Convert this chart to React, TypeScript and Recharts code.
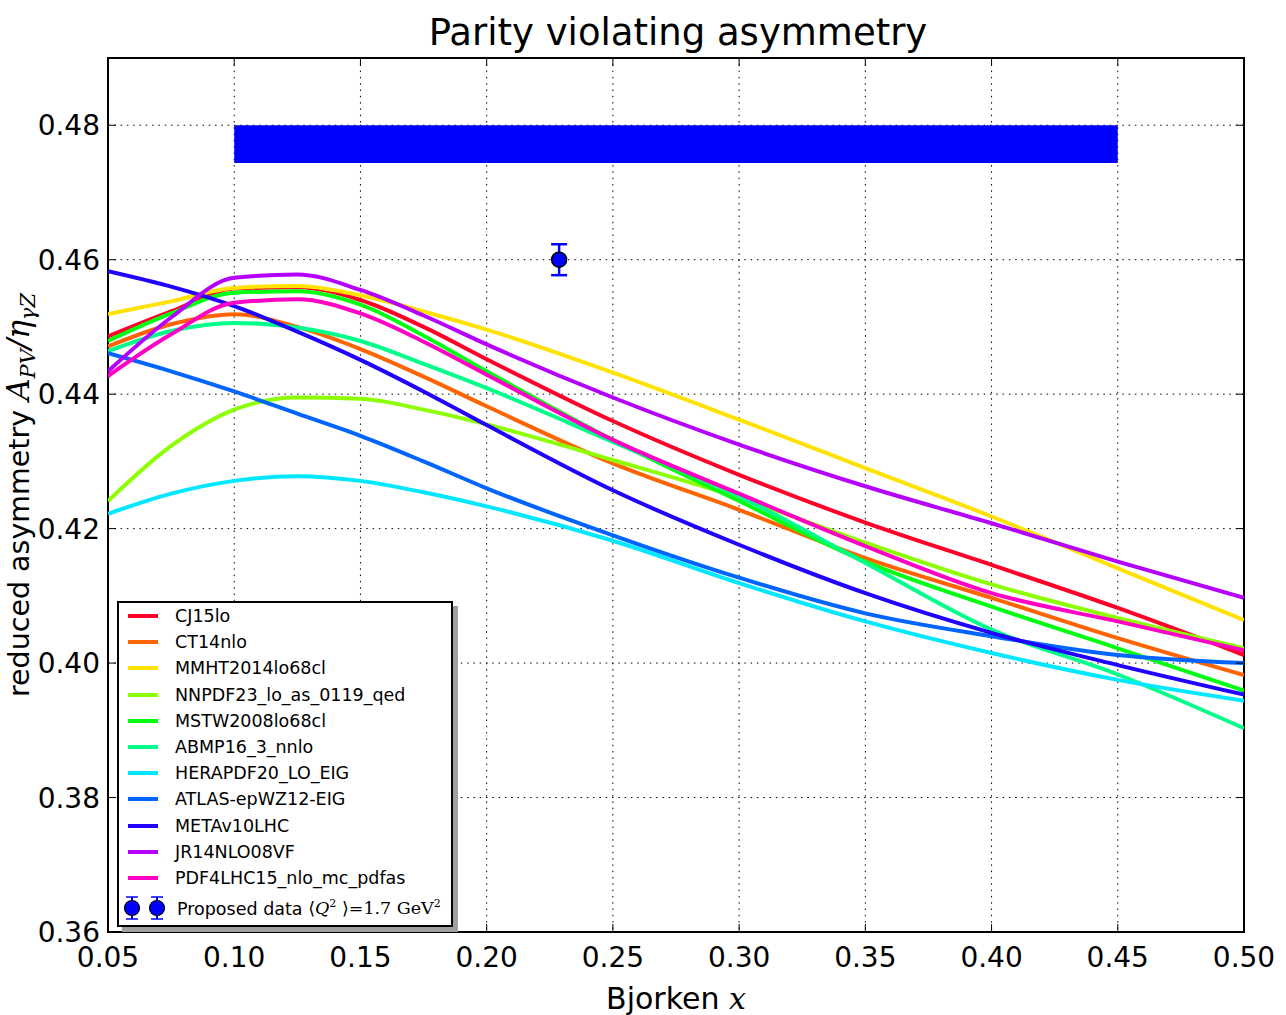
import React from 'react';
import {
  ComposedChart,
  Line,
  XAxis,
  YAxis,
  CartesianGrid,
  ReferenceArea,
  Scatter,
  ErrorBar,
  Legend,
  Customized,
  Label,
} from 'recharts';

// ---------- data ----------
const xValues = [0.05, 0.075, 0.1, 0.125, 0.15, 0.175, 0.2, 0.25, 0.3, 0.35, 0.4, 0.45, 0.5];

const cj15lo = [0.4486, 0.4523, 0.4557, 0.4559, 0.454, 0.45, 0.4452, 0.436, 0.428, 0.4209, 0.4146, 0.4082, 0.4012];
const ct14nlo = [0.4471, 0.4504, 0.4519, 0.45, 0.4467, 0.4426, 0.4382, 0.4297, 0.4228, 0.4156, 0.4097, 0.4037, 0.3982];
const mmht2014lo = [0.4519, 0.4538, 0.4558, 0.4561, 0.4547, 0.4523, 0.4496, 0.4432, 0.4362, 0.429, 0.4218, 0.4141, 0.4064];
const nnpdf23lo = [0.4241, 0.4323, 0.4377, 0.4395, 0.4393, 0.4377, 0.4355, 0.4302, 0.4246, 0.4179, 0.4117, 0.4067, 0.4022];
const mstw2008lo = [0.4479, 0.452, 0.4551, 0.4553, 0.4533, 0.4487, 0.4434, 0.4332, 0.4241, 0.4151, 0.4084, 0.4022, 0.3959];
const abmp16 = [0.4464, 0.4494, 0.4506, 0.4499, 0.4479, 0.4445, 0.4409, 0.4329, 0.4248, 0.4149, 0.405, 0.3983, 0.3903];
const herapdf20 = [0.4222, 0.4252, 0.4271, 0.4278, 0.4271, 0.4254, 0.4233, 0.4182, 0.4119, 0.4062, 0.4015, 0.3975, 0.3944];
const atlasEpwz12 = [0.4461, 0.4434, 0.4404, 0.4371, 0.4338, 0.43, 0.426, 0.419, 0.4127, 0.4074, 0.404, 0.4012, 0.4];
const metav10lhc = [0.4583, 0.456, 0.4531, 0.4493, 0.4451, 0.4404, 0.4354, 0.4257, 0.4176, 0.4104, 0.4045, 0.3997, 0.3953];
const jr14nlo08vf = [0.4434, 0.4514, 0.4573, 0.4578, 0.4555, 0.4517, 0.4474, 0.4395, 0.4325, 0.4263, 0.4208, 0.4151, 0.4097];
const pdf4lhc15 = [0.4427, 0.4489, 0.4536, 0.4541, 0.452, 0.4478, 0.4429, 0.4332, 0.4252, 0.4174, 0.4104, 0.4062, 0.4019];

const seriesNames = [
  'CJ15lo',
  'CT14nlo',
  'MMHT2014lo68cl',
  'NNPDF23_lo_as_0119_qed',
  'MSTW2008lo68cl',
  'ABMP16_3_nnlo',
  'HERAPDF20_LO_EIG',
  'ATLAS-epWZ12-EIG',
  'METAv10LHC',
  'JR14NLO08VF',
  'PDF4LHC15_nlo_mc_pdfas',
];
const seriesValues = [
  cj15lo, ct14nlo, mmht2014lo, nnpdf23lo, mstw2008lo, abmp16,
  herapdf20, atlasEpwz12, metav10lhc, jr14nlo08vf, pdf4lhc15,
];
const seriesColors = [
  '#ff0029', '#ff6400', '#ffe200', '#8cff00', '#00ff10', '#00ff8a',
  '#00e8ff', '#0064ff', '#2000ff', '#b600ff', '#ff00c4',
];

const proposedX = [0.2287];
const proposedY = [0.46];
const proposedErr = [0.0023];

const bandX = [0.1, 0.45];
const bandY = [0.4744, 0.48];

const xTicks = [0.05, 0.1, 0.15, 0.2, 0.25, 0.3, 0.35, 0.4, 0.45, 0.5];
const yTicks = [0.36, 0.38, 0.4, 0.42, 0.44, 0.46, 0.48];
const xDomain = [0.05, 0.5];
const yDomain = [0.36, 0.49];

// ---------- tables ----------
const lineTable = xValues.map((x, i) => {
  const row: Record<string, number> = { x };
  seriesValues.forEach((vals, k) => {
    row['s' + k] = vals[i];
  });
  return row;
});
const pointTable = proposedX.map((x, i) => ({ x, y: proposedY[i], err: proposedErr[i] }));

const FONT = '"DejaVu Sans", sans-serif';
const SERIF = '"DejaVu Serif", "Liberation Serif", serif';

// ---------- ticks ----------
const BottomTick = (props: any) => {
  const { x, y, payload } = props;
  return (
    <g>
      <line x1={x} y1={y} x2={x} y2={y - 8} stroke="#000" strokeWidth={1} />
      <text x={x} y={y + 35} textAnchor="middle" fontSize={28} fontFamily={FONT} fill="#000">
        {Number(payload.value).toFixed(2)}
      </text>
    </g>
  );
};
const TopTick = (props: any) => {
  const { x, y } = props;
  return <line x1={x} y1={y} x2={x} y2={y + 8} stroke="#000" strokeWidth={1} />;
};
const LeftTick = (props: any) => {
  const { x, y, payload } = props;
  return (
    <g>
      <line x1={x} y1={y} x2={x + 8} y2={y} stroke="#000" strokeWidth={1} />
      <text x={x - 8} y={y + 10} textAnchor="end" fontSize={28} fontFamily={FONT} fill="#000">
        {Number(payload.value).toFixed(2)}
      </text>
    </g>
  );
};
const RightTick = (props: any) => {
  const { x, y } = props;
  return <line x1={x} y1={y} x2={x - 8} y2={y} stroke="#000" strokeWidth={1} />;
};

// ---------- labels ----------
const XLabel = (props: any) => {
  const vb = props.viewBox || {};
  const cx = vb.x + vb.width / 2;
  return (
    <text x={cx} y={vb.y + 77} textAnchor="middle" fontSize={30} fontFamily={FONT} fill="#000">
      <tspan>Bjorken </tspan>
      <tspan fontFamily={SERIF} fontStyle="italic">x</tspan>
    </text>
  );
};
const YLabel = (props: any) => {
  const vb = props.viewBox || {};
  const cy = vb.y + vb.height / 2;
  const bx = 29;
  return (
    <text
      x={bx}
      y={cy}
      transform={`rotate(-90, ${bx}, ${cy})`}
      textAnchor="middle"
      fontSize={28.5}
      fontFamily={FONT}
      fill="#000"
    >
      <tspan>reduced asymmetry  </tspan>
      <tspan fontFamily={SERIF} fontStyle="italic" fontSize={31}>A</tspan>
      <tspan fontFamily={SERIF} fontStyle="italic" fontSize={21} dy={6}>PV</tspan>
      <tspan fontFamily={SERIF} fontStyle="italic" fontSize={31} dy={-6}>/η</tspan>
      <tspan fontFamily={SERIF} fontStyle="italic" fontSize={21} dy={6}>γZ</tspan>
    </text>
  );
};

const Title = () => (
  <text x={678} y={45} textAnchor="middle" fontSize={37} fontFamily={FONT} fill="#000">
    Parity violating asymmetry
  </text>
);

// ---------- legend ----------
const LegendBox = () => (
  <div
    style={{
      boxSizing: 'border-box',
      width: 336,
      height: 326,
      border: '2px solid #000',
      background: '#fff',
      boxShadow: '5px 5px 0 #a0a0a0',
      fontFamily: FONT,
      fontSize: 17.5,
      color: '#000',
    }}
  >
    {seriesNames.map((name, i) => (
      <div key={name} style={{ height: 26.2, display: 'flex', alignItems: 'center' }}>
        <div style={{ width: 30, height: 4, marginLeft: 9, background: seriesColors[i] }} />
        <span style={{ marginLeft: 17, whiteSpace: 'nowrap' }}>{name}</span>
      </div>
    ))}
    <div style={{ height: 34, display: 'flex', alignItems: 'center' }}>
      <svg width={46} height={30} style={{ marginLeft: 4 }}>
        {[9, 34].map((cx) => (
          <g key={cx}>
            <line x1={cx} y1={4} x2={cx} y2={26} stroke="#0000ff" strokeWidth={2} />
            <line x1={cx - 6} y1={4} x2={cx + 6} y2={4} stroke="#0000ff" strokeWidth={1.5} />
            <line x1={cx - 6} y1={26} x2={cx + 6} y2={26} stroke="#0000ff" strokeWidth={1.5} />
            <circle cx={cx} cy={15} r={7.5} fill="#0000ff" stroke="#000" strokeWidth={1.2} />
          </g>
        ))}
      </svg>
      <span style={{ marginLeft: 8, whiteSpace: 'nowrap' }}>
        Proposed data{' '}
        <span style={{ fontFamily: SERIF }}>
          ⟨<i>Q</i>
          <sup style={{ fontSize: 11 }}>2</sup> ⟩=1.7 GeV<sup style={{ fontSize: 11 }}>2</sup>
        </span>
      </span>
    </div>
  </div>
);

const ProposedShape = (props: any) => (
  <circle cx={props.cx} cy={props.cy} r={7.5} fill="#0000ff" stroke="#000" strokeWidth={1.5} />
);

export default function App() {
  return (
    <div style={{ position: 'absolute', left: 0, top: 0, background: '#fff' }}>
      <ComposedChart
        width={1286}
        height={1015}
        data={lineTable}
        margin={{ top: 56, right: 40, bottom: 33, left: 8 }}
      >
        <CartesianGrid stroke="#000" strokeWidth={1} strokeDasharray="1.5 4.8" />
        <XAxis
          dataKey="x"
          type="number"
          domain={xDomain}
          ticks={xTicks}
          height={50}
          axisLine={false}
          tickLine={false}
          tickSize={0}
          tickMargin={0}
          tick={<BottomTick />}
          interval={0}
          allowDataOverflow
        >
          <Label content={<XLabel />} />
        </XAxis>
        <XAxis
          xAxisId="top"
          orientation="top"
          dataKey="x"
          type="number"
          domain={xDomain}
          ticks={xTicks}
          height={2}
          axisLine={false}
          tickLine={false}
          tickSize={0}
          tickMargin={0}
          tick={<TopTick />}
          interval={0}
          allowDataOverflow
        />
        <YAxis
          type="number"
          domain={yDomain}
          ticks={yTicks}
          width={100}
          axisLine={false}
          tickLine={false}
          tickSize={0}
          tickMargin={0}
          tick={<LeftTick />}
          interval={0}
          allowDataOverflow
        >
          <Label content={<YLabel />} />
        </YAxis>
        <YAxis
          yAxisId="right"
          orientation="right"
          type="number"
          domain={yDomain}
          ticks={yTicks}
          width={2}
          axisLine={false}
          tickLine={false}
          tickSize={0}
          tickMargin={0}
          tick={<RightTick />}
          interval={0}
          allowDataOverflow
        />
        <ReferenceArea
          x1={bandX[0]}
          x2={bandX[1]}
          y1={bandY[0]}
          y2={bandY[1]}
          fill="#0000ff"
          fillOpacity={1}
          stroke="none"
        />
        {seriesNames.map((name, k) => (
          <Line
            key={name}
            dataKey={'s' + k}
            name={name}
            type="monotone"
            stroke={seriesColors[k]}
            strokeWidth={4}
            dot={false}
            activeDot={false}
            isAnimationActive={false}
          />
        ))}
        <Scatter
          data={pointTable}
          dataKey="y"
          name="Proposed data"
          fill="#0000ff"
          shape={<ProposedShape />}
          isAnimationActive={false}
        >
          <ErrorBar dataKey="err" direction="y" stroke="#0000ff" strokeWidth={2.5} width={8} isAnimationActive={false} />
        </Scatter>
        <ReferenceArea
          x1={xDomain[0]}
          x2={xDomain[1]}
          y1={yDomain[0]}
          y2={yDomain[1]}
          fill="none"
          stroke="#000"
          strokeWidth={2}
        />
        <Legend
          layout="vertical"
          align="center"
          verticalAlign="middle"
          content={<LegendBox />}
          wrapperStyle={{ left: 117, top: 601, width: 336, height: 326 }}
        />
        <Customized component={<Title />} />
      </ComposedChart>
    </div>
  );
}
